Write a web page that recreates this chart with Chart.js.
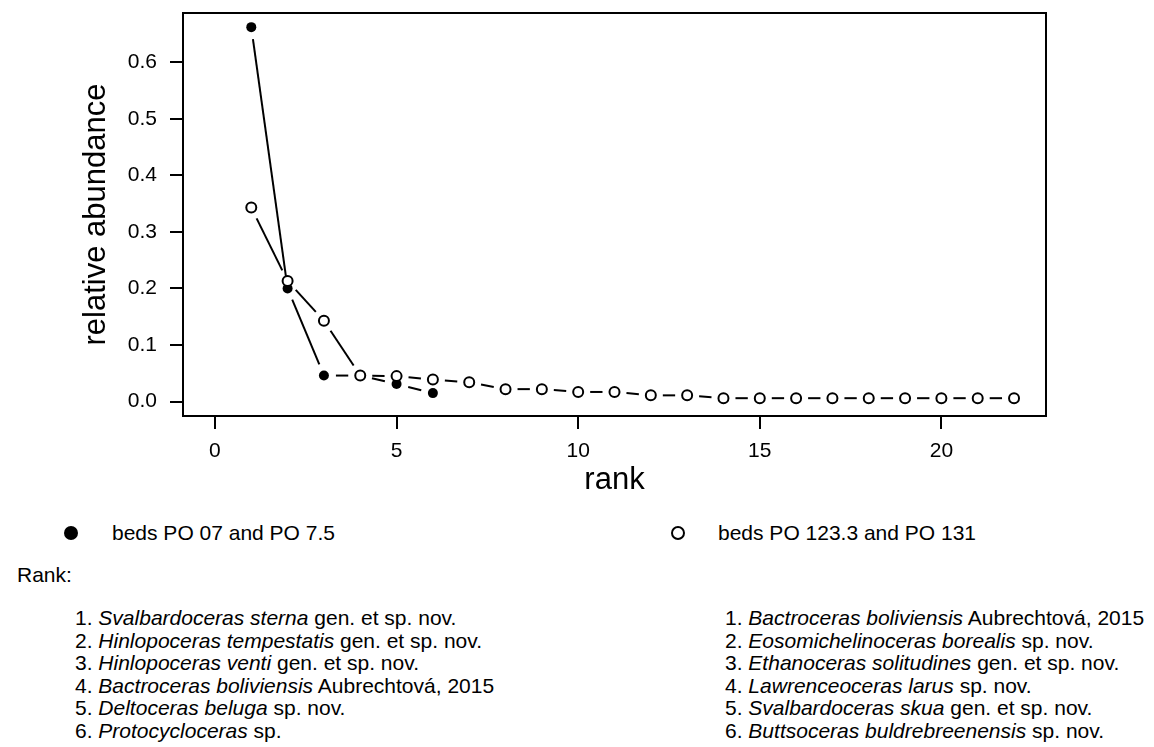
<!DOCTYPE html>
<html>
<head>
<meta charset="utf-8">
<script src="https://cdn.jsdelivr.net/npm/chart.js@4.4.1/dist/chart.umd.min.js"></script>
<style>
    html, body { margin: 0; padding: 0; background: #fff; }
    body { width: 1154px; height: 747px; position: relative; overflow: hidden;
           font-family: "Liberation Sans", Arial, sans-serif; color: #000; font-size: 21px; }
    #chartBox { position: absolute; left: 0; top: 0; width: 1154px; height: 520px; }
    .row { position: absolute; line-height: 22px; white-space: nowrap; }
    .dot { position: absolute; width: 14px; height: 14px; border-radius: 50%; box-sizing: border-box; }
    .filled { background: #000; }
    .open { border: 2px solid #000; background: #fff; }
</style>
</head>
<body>
<div id="chartBox"><canvas id="rankChart" width="1154" height="520"></canvas></div>

<span class="dot filled" style="left:64px; top:526px;"></span>
<div class="row" style="left:112px; top:522px;">beds PO 07 and PO 7.5</div>
<span class="dot open" style="left:671px; top:526px;"></span>
<div class="row" style="left:718px; top:522px;">beds PO 123.3 and PO 131</div>
<div class="row" style="left:17px; top:564px;">Rank:</div>
<div id="listLeft"></div>
<div id="listRight"></div>

<script>
    "use strict";

    let ranksLower = [1, 2, 3, 4, 5, 6];
    let abundanceLower = [0.662, 0.200, 0.046, 0.046, 0.031, 0.015];

    let ranksUpper = [1, 2, 3, 4, 5, 6, 7, 8, 9, 10, 11, 12, 13, 14, 15, 16, 17, 18, 19, 20, 21, 22];
    let abundanceUpper = [0.343, 0.213, 0.143, 0.046, 0.045, 0.039, 0.034, 0.022, 0.022, 0.017, 0.017,
        0.011, 0.011, 0.006, 0.006, 0.006, 0.006, 0.006, 0.006, 0.006, 0.006, 0.006];

    let xTicks = [0, 5, 10, 15, 20];
    let yTicks = [0.0, 0.1, 0.2, 0.3, 0.4, 0.5, 0.6];

    // [italic part, plain part]
    let taxaLower = [
        ["Svalbardoceras sterna", " gen. et sp. nov."],
        ["Hinlopoceras tempestatis", " gen. et sp. nov."],
        ["Hinlopoceras venti", " gen. et sp. nov."],
        ["Bactroceras boliviensis", " Aubrechtová, 2015"],
        ["Deltoceras beluga", " sp. nov."],
        ["Protocycloceras", " sp."]
    ];
    let taxaUpper = [
        ["Bactroceras boliviensis", " Aubrechtová, 2015"],
        ["Eosomichelinoceras borealis", " sp. nov."],
        ["Ethanoceras solitudines", " gen. et sp. nov."],
        ["Lawrenceoceras larus", " sp. nov."],
        ["Svalbardoceras skua", " gen. et sp. nov."],
        ["Buttsoceras buldrebreenensis", " sp. nov."]
    ];

    function fillList(id, taxa, left) {
        let box = document.getElementById(id);
        taxa.forEach(function (t, i) {
            let div = document.createElement("div");
            div.className = "row";
            div.style.left = left + "px";
            div.style.top = (607 + i * 22.6) + "px";
            div.innerHTML = (i + 1) + ". <i>" + t[0] + "</i>" + t[1];
            box.appendChild(div);
        });
    }
    fillList("listLeft", taxaLower, 75);
    fillList("listRight", taxaUpper, 725);

    function toPoints(xs, ys) {
        return xs.map(function (x, i) { return {x: x, y: ys[i]}; });
    }

    // R style type="b": segments that stop short of each point, plus a frame
    let gapLines = {
        id: "gapLines",
        beforeDatasetsDraw: function (chart) {
            let ctx = chart.ctx;
            let gap = 12;
            ctx.save();
            ctx.strokeStyle = "#000";
            ctx.lineWidth = 2;
            chart.data.datasets.forEach(function (ds, di) {
                let pts = chart.getDatasetMeta(di).data;
                for (let i = 1; i < pts.length; i++) {
                    let a = pts[i - 1], b = pts[i];
                    let dx = b.x - a.x, dy = b.y - a.y;
                    let len = Math.sqrt(dx * dx + dy * dy);
                    if (len <= 2 * gap) continue;
                    let ux = dx / len, uy = dy / len;
                    ctx.beginPath();
                    ctx.moveTo(a.x + ux * gap, a.y + uy * gap);
                    ctx.lineTo(b.x - ux * gap, b.y - uy * gap);
                    ctx.stroke();
                }
            });
            ctx.restore();
        },
        afterDraw: function (chart) {
            let a = chart.chartArea;
            let ctx = chart.ctx;
            ctx.save();
            ctx.strokeStyle = "#000";
            ctx.lineWidth = 2;
            ctx.strokeRect(a.left, a.top, a.right - a.left, a.bottom - a.top);
            ctx.restore();
        }
    };

    function noPadding(axis) {
        axis.paddingTop = 0;
        axis.paddingBottom = 0;
        axis.paddingLeft = 0;
        axis.paddingRight = 0;
    }

    let baseFont = {family: "'Liberation Sans', Arial, sans-serif", size: 21};
    let titleFont = {family: "'Liberation Sans', Arial, sans-serif", size: 31};

    new Chart(document.getElementById("rankChart").getContext("2d"), {
        type: "scatter",
        data: {
            datasets: [{
                label: "beds PO 123.3 and PO 131",
                data: toPoints(ranksUpper, abundanceUpper),
                pointRadius: 5,
                pointBorderWidth: 2,
                pointBackgroundColor: "#fff",
                pointBorderColor: "#000",
                showLine: false
            }, {
                label: "beds PO 07 and PO 7.5",
                data: toPoints(ranksLower, abundanceLower),
                pointRadius: 5,
                pointBorderWidth: 0,
                pointBackgroundColor: "#000",
                pointBorderColor: "#000",
                showLine: false
            }]
        },
        options: {
            responsive: false,
            animation: false,
            layout: {padding: {top: 13, left: 0, right: 108, bottom: 0}},
            plugins: {legend: {display: false}, tooltip: {enabled: false}},
            scales: {
                x: {
                    type: "linear",
                    min: -0.88,
                    max: 22.88,
                    afterBuildTicks: function (axis) {
                        axis.ticks = xTicks.map(function (v) { return {value: v}; });
                    },
                    afterFit: function (axis) { axis.height = 104; noPadding(axis); },
                    grid: {drawOnChartArea: false, drawTicks: true, tickLength: 13, lineWidth: 2, color: "#000"},
                    border: {display: false},
                    ticks: {color: "#000", font: baseFont, padding: 10, maxRotation: 0,
                        callback: function (v) { return String(v); }},
                    title: {display: true, text: "rank", color: "#000", font: titleFont, padding: {top: 0, bottom: 21}}
                },
                y: {
                    type: "linear",
                    min: -0.0255,
                    max: 0.687,
                    afterBuildTicks: function (axis) {
                        axis.ticks = yTicks.map(function (v) { return {value: v}; });
                    },
                    afterFit: function (axis) { axis.width = 183; noPadding(axis); },
                    grid: {drawOnChartArea: false, drawTicks: true, tickLength: 13, lineWidth: 2, color: "#000"},
                    border: {display: false},
                    ticks: {color: "#000", font: baseFont, padding: 13,
                        callback: function (v) { return v.toFixed(1); }},
                    title: {display: true, text: "relative abundance", color: "#000", font: titleFont,
                        padding: {top: 78, bottom: 0}}
                }
            }
        },
        plugins: [gapLines]
    });
</script>
</body>
</html>
